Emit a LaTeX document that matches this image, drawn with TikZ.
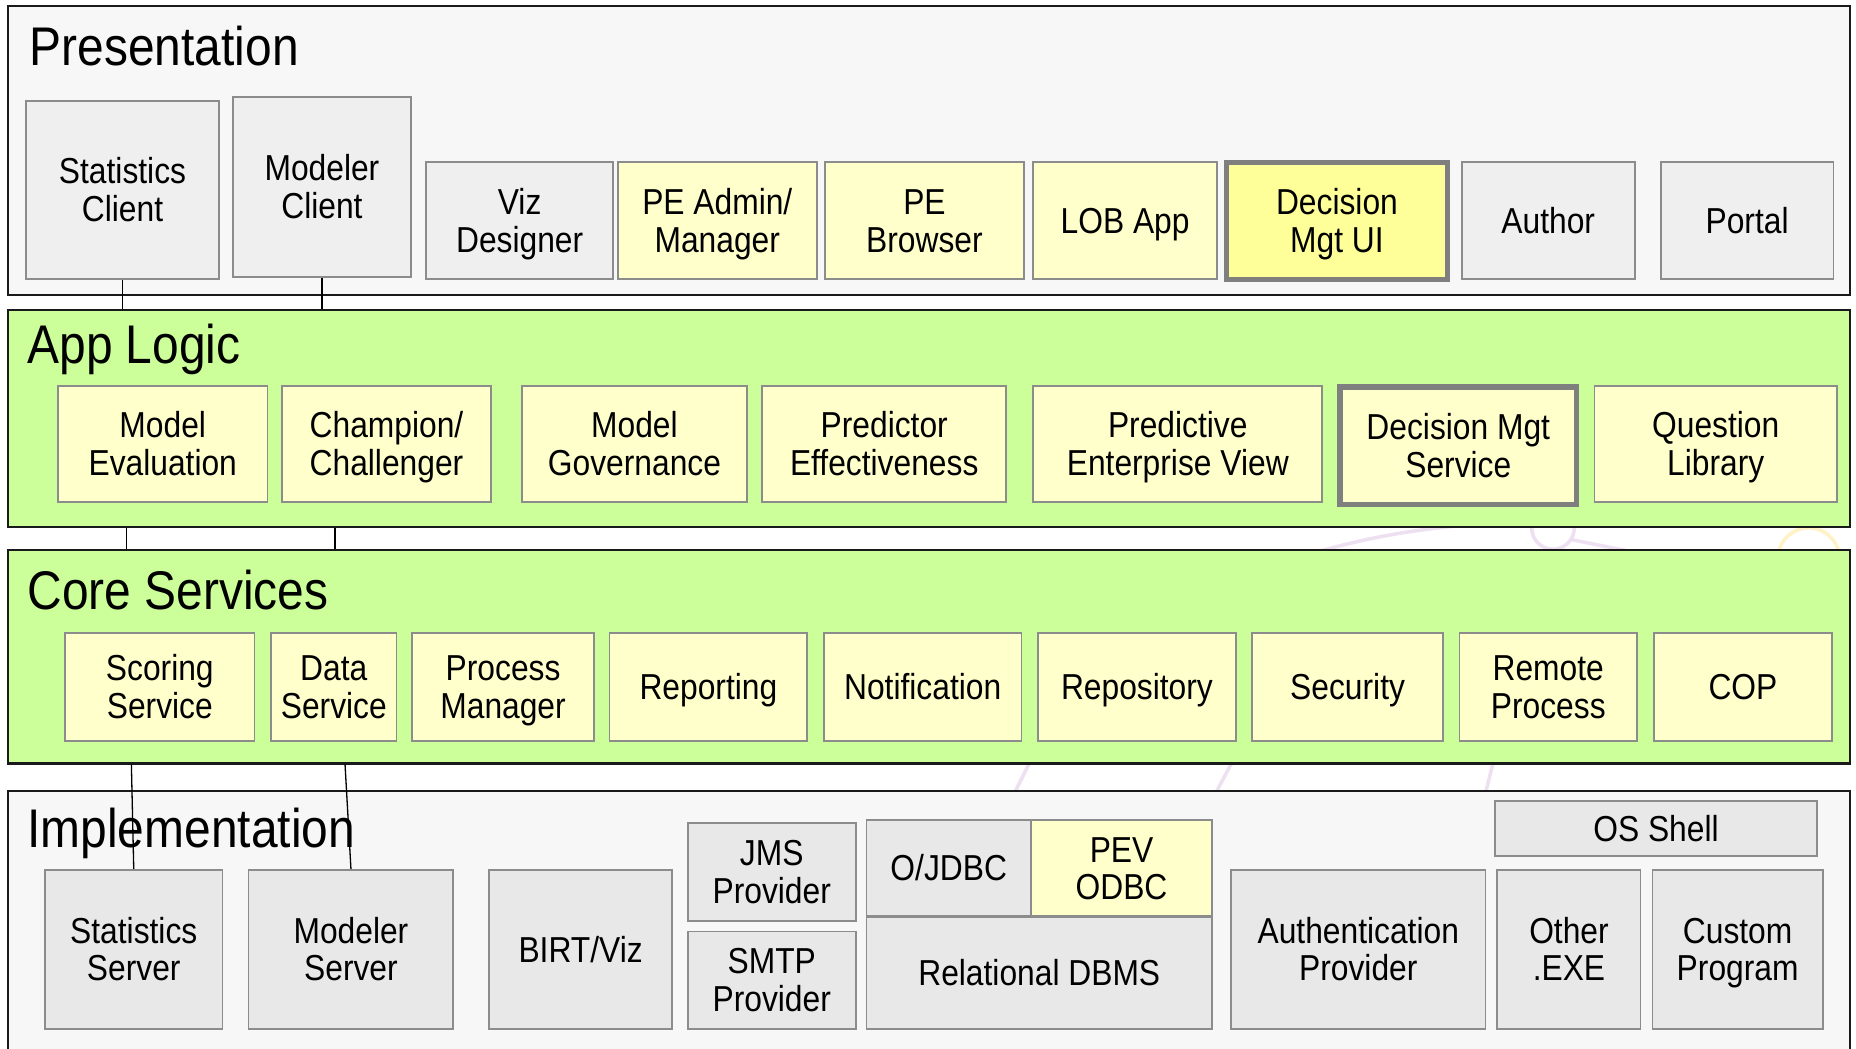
\documentclass[tikz,border=0pt]{standalone}
\usepackage{fontspec}
\setmainfont{Liberation Sans}[FakeStretch=0.88]

\definecolor{layergray}{HTML}{F7F7F7}
\definecolor{layergreen}{HTML}{CCFF99}
\definecolor{clientgray}{HTML}{EFEFEF}
\definecolor{servergray}{HTML}{E8E8E8}
\definecolor{boxyellow}{HTML}{FFFFCC}
\definecolor{hiyellow}{HTML}{FFFF99}
\definecolor{boxedge}{HTML}{8C8C8C}
\definecolor{hiedge}{HTML}{7F7F7F}
\definecolor{layeredge}{HTML}{1A1A1A}
\definecolor{marklilac}{HTML}{ECDDF0}
\definecolor{markgold}{HTML}{FFF1C2}

\newcommand\boxfont{\fontsize{30.5}{32}\selectfont}
\newcommand\titlefont{\fontsize{46}{50}\selectfont}

% one text line with a fixed cap height and no depth, so labels centre on their capitals
\newcommand\lnx[1]{\raisebox{0pt}[21.5pt][0pt]{#1}}

% block: name, x1, y1, x2, y2, style, text  (corners of the outline path)
\newcommand\blk[7]{%
  \node[#6, minimum width={(#4-#2)*1pt}, minimum height={(#5-#3)*1pt}]
    (#1) at ({(#2+#4)/2},{(#3+#5)/2}) {#7};}

\begin{document}
\begin{tikzpicture}[x=1pt,y=-1pt,
  layer/.style={draw=layeredge, line width=1.8pt, inner sep=0pt},
  box/.style={draw=boxedge, line width=1.5pt, inner sep=0pt, align=center,
              font=\boxfont, text=black},
  cbox/.style={box, fill=clientgray},
  sbox/.style={box, fill=servergray},
  ybox/.style={box, fill=boxyellow},
  hbox/.style={box, draw=hiedge, line width=4.5pt},
  title/.style={anchor=base west, inner sep=0pt, font=\titlefont},
  link/.style={draw=black, line width=1.1pt},
  emblem/.style={line width=3pt, opacity=0.9}]

\clip (0,0) rectangle (1568,886);
\fill[white] (0,0) rectangle (1568,886);

% faint emblem behind the layers
\draw[emblem, marklilac] (1100,470) .. controls (1160,452) and (1200,447) .. (1245,443);
\draw[emblem, marklilac] (1312,446) circle (18);
\draw[emblem, marklilac] (1328,456) -- (1398,470);
\draw[emblem, markgold]  (1528,472) circle (26);
\draw[emblem, marklilac] (857,670) -- (871,642);
\draw[emblem, marklilac] (1027,670) -- (1042,642);
\draw[emblem, marklilac] (1255,670) -- (1262,642);

% layers
\blk{pres}{7}{5}{1563}{249}{layer, fill=layergray}{}
\blk{al}{7}{262}{1563}{445}{layer, fill=layergreen}{}
\blk{cs}{7}{465}{1563}{645}{layer, fill=layergreen}{}
\blk{impl}{7}{668}{1563}{900}{layer, fill=layergray}{}

\node[title] (tpres) at (25,55)  {Presentation};
\node[title] (tal)   at (23,307) {App Logic};
\node[title] (tcs)   at (23,515) {Core Services};
\node[title] (timpl) at (23,716) {Implementation};

% presentation
\blk{sc}{22}{85}{185}{236}{cbox}{\lnx{Statistics}\\\lnx{Client}}
\blk{mc}{197}{82}{347}{234}{cbox}{\lnx{Modeler}\\\lnx{Client}}
\blk{vd}{360}{137}{518}{236}{cbox}{\lnx{Viz}\\\lnx{Designer}}
\blk{pea}{522}{137}{690}{236}{ybox}{\lnx{PE Admin/}\\\lnx{Manager}}
\blk{peb}{697}{137}{865}{236}{ybox}{\lnx{PE}\\\lnx{Browser}}
\blk{lob}{873}{137}{1028}{236}{ybox}{\lnx{LOB App}}
\blk{dmui}{1036}{137}{1223}{236}{hbox, fill=hiyellow}{\lnx{Decision}\\\lnx{Mgt UI}}
\blk{auth}{1235}{137}{1381}{236}{cbox}{\lnx{Author}}
\blk{portal}{1403}{137}{1549}{236}{cbox}{\lnx{Portal}}

% app logic
\blk{me}{49}{326}{226}{424}{ybox}{\lnx{Model}\\\lnx{Evaluation}}
\blk{cc}{238}{326}{415}{424}{ybox}{\lnx{Champion/}\\\lnx{Challenger}}
\blk{mg}{441}{326}{631}{424}{ybox}{\lnx{Model}\\\lnx{Governance}}
\blk{pe}{644}{326}{850}{424}{ybox}{\lnx{Predictor}\\\lnx{Effectiveness}}
\blk{pev}{873}{326}{1117}{424}{ybox}{\lnx{Predictive}\\\lnx{Enterprise View}}
\blk{dms}{1132}{327}{1332}{426}{hbox, fill=boxyellow}{\lnx{Decision Mgt}\\\lnx{Service}}
\blk{ql}{1347}{326}{1552}{424}{ybox}{\lnx{Question}\\\lnx{Library}}

% core services
\blk{scs}{55}{535}{215}{626}{ybox}{\lnx{Scoring}\\\lnx{Service}}
\blk{ds}{229}{535}{335}{626}{ybox}{\lnx{Data}\\\lnx{Service}}
\blk{pm}{348}{535}{502}{626}{ybox}{\lnx{Process}\\\lnx{Manager}}
\blk{rep}{515}{535}{682}{626}{ybox}{\lnx{Reporting}}
\blk{noti}{696}{535}{863}{626}{ybox}{\lnx{Notification}}
\blk{repo}{877}{535}{1044}{626}{ybox}{\lnx{Repository}}
\blk{sec}{1058}{535}{1219}{626}{ybox}{\lnx{Security}}
\blk{rp}{1233}{535}{1383}{626}{ybox}{\lnx{Remote}\\\lnx{Process}}
\blk{cop}{1397}{535}{1548}{626}{ybox}{\lnx{COP}}

% implementation
\blk{ss}{38}{735}{188}{869}{sbox}{\lnx{Statistics}\\\lnx{Server}}
\blk{ms}{210}{735}{383}{869}{sbox}{\lnx{Modeler}\\\lnx{Server}}
\blk{birt}{413}{735}{568}{869}{sbox}{\lnx{BIRT/Viz}}
\blk{jms}{581}{695}{723}{778}{sbox}{\lnx{JMS}\\\lnx{Provider}}
\blk{smtp}{581}{787}{723}{869}{sbox}{\lnx{SMTP}\\\lnx{Provider}}
\blk{ojdbc}{732}{693}{871}{774}{sbox}{\lnx{O/JDBC}}
\blk{pevodbc}{871}{693}{1024}{774}{ybox}{\lnx{PEV}\\\lnx{ODBC}}
\blk{rdbms}{732}{775}{1024}{869}{sbox}{\lnx{Relational DBMS}}
\blk{authp}{1040}{735}{1255}{869}{sbox}{\lnx{Authentication}\\\lnx{Provider}}
\blk{os}{1263}{677}{1535}{723}{sbox}{\lnx{OS Shell}}
\blk{exe}{1265}{735}{1386}{869}{sbox}{\lnx{Other}\\\lnx{.EXE}}
\blk{cp}{1396}{735}{1540}{869}{sbox}{\lnx{Custom}\\\lnx{Program}}

% links between layers
\path (107,0) coordinate (xa) (283,0) coordinate (xb);
\draw[link] (sc.south) -- (sc.south |- al.north);
\draw[link] (mc.south) -- (mc.south |- al.north);
\draw[link] (al.south -| xa) -- (cs.north -| xa);
\draw[link] (al.south -| xb) -- (cs.north -| xb);
\draw[link] (ss.north) -- ([xshift=-2pt]ss.north |- cs.south);
\draw[link] (ms.north) -- ([xshift=-5pt]ms.north |- cs.south);
\end{tikzpicture}
\end{document}
